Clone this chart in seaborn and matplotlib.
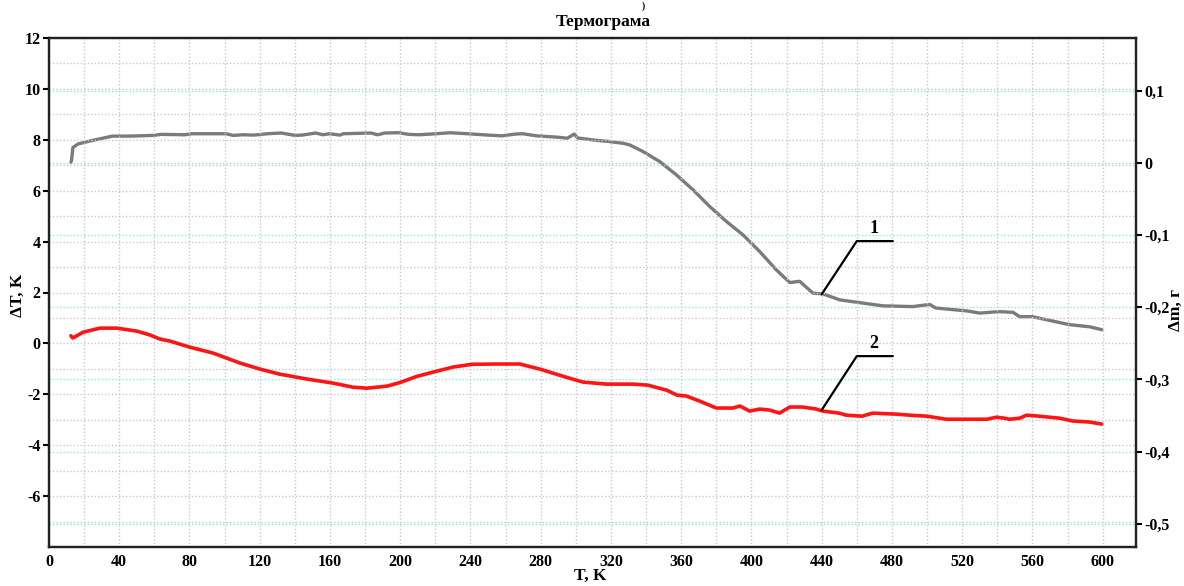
import numpy as np
import pandas as pd
import matplotlib
matplotlib.use("Agg")
import matplotlib.pyplot as plt
import seaborn as sns
from matplotlib.ticker import MultipleLocator, FixedLocator, FuncFormatter

# ---------------- data ----------------
# Curve 1: mass change (right axis, Δm, г)
T_mass = [12.5, 12.9, 13.6, 16.5, 24.3, 36.1, 45.9, 59.7, 63.6, 77.3, 81.2,
          100.9, 104.8, 110.7, 116.6, 124.4, 132.3, 140.1, 144.1, 151.9, 155.9,
          159.8, 165.7, 167.6, 183.3, 187.2, 191.2, 199.0, 204.9, 210.8, 220.6,
          228.4, 238.3, 250.1, 257.9, 265.8, 269.7, 277.6, 289.3, 295.2, 299.1,
          301.0, 302.3, 309.8, 319.3, 326.9, 330.7, 338.3, 347.8, 357.3, 366.8,
          376.3, 385.8, 395.2, 404.7, 414.2, 421.8, 427.5, 435.1, 440.8, 450.3,
          463.0, 475.0, 492.0, 501.5, 505.0, 522.6, 530.0, 541.0, 549.0, 552.7,
          560.0, 571.5, 581.0, 592.6, 599.5]
dm_mass = [0.001, 0.0046, 0.0213, 0.0262, 0.0309, 0.0371, 0.0371, 0.0381, 0.0395,
           0.0390, 0.0404, 0.0404, 0.0381, 0.0390, 0.0385, 0.0404, 0.0414, 0.0381,
           0.0385, 0.0414, 0.0390, 0.0404, 0.0385, 0.0404, 0.0414, 0.0390, 0.0414,
           0.0418, 0.0395, 0.0390, 0.0404, 0.0418, 0.0404, 0.0385, 0.0375, 0.0400,
           0.0404, 0.0375, 0.0357, 0.0342, 0.0400, 0.0345, 0.0342, 0.0318, 0.0295,
           0.0272, 0.0249, 0.0157, 0.0018, -0.0166, -0.0374, -0.0605, -0.0812,
           -0.0997, -0.1228, -0.1482, -0.1657, -0.1640, -0.1805, -0.1814, -0.1897,
           -0.1940, -0.1980, -0.1990, -0.1960, -0.2010, -0.2050, -0.2080, -0.2060,
           -0.2070, -0.2130, -0.2130, -0.2190, -0.2240, -0.2270, -0.2310]

# Curve 2: differential temperature (left axis, ΔT, K)
T_dta = [12.5, 13.5, 19.4, 29.0, 38.7, 50.1, 57.5, 63.2, 68.9, 80.3, 93.4, 108.7,
         120.1, 131.5, 146.8, 161.7, 173.0, 181.0, 192.4, 199.8, 209.3, 218.6,
         230.0, 241.0, 256.7, 268.0, 279.5, 292.6, 304.0, 317.6, 332.4, 341.0,
         351.8, 357.5, 363.0, 370.6, 380.0, 389.4, 393.4, 399.0, 404.7, 410.4,
         416.0, 421.8, 429.0, 437.0, 440.6, 450.0, 454.0, 463.0, 469.0, 482.7,
         490.0, 499.8, 511.0, 534.0, 539.6, 544.0, 547.0, 552.7, 556.7, 564.0,
         575.5, 583.0, 592.6, 599.4]
dT_dta = [0.30, 0.21, 0.44, 0.60, 0.60, 0.48, 0.33, 0.17, 0.09, -0.15, -0.38, -0.77,
          -1.01, -1.21, -1.40, -1.56, -1.72, -1.76, -1.68, -1.54, -1.30, -1.13,
          -0.93, -0.82, -0.81, -0.81, -1.01, -1.29, -1.52, -1.60, -1.60, -1.64,
          -1.84, -2.03, -2.07, -2.27, -2.54, -2.54, -2.46, -2.66, -2.58, -2.62,
          -2.74, -2.50, -2.50, -2.58, -2.66, -2.74, -2.82, -2.86, -2.74, -2.78,
          -2.82, -2.86, -2.98, -2.98, -2.90, -2.94, -2.98, -2.94, -2.82, -2.86,
          -2.94, -3.05, -3.09, -3.17]

left_ticks = [-6, -4, -2, 0, 2, 4, 6, 8, 10, 12]
right_ticks = [0.1, 0.0, -0.1, -0.2, -0.3, -0.4, -0.5]
x_ticks = list(range(0, 601, 40))

# callout labels: leader line points (T, ΔT) and label text
callout_T = [440, 460, 480.5]
callout1_dT = [1.93, 4.02, 4.02]
callout2_dT = [-2.62, -0.50, -0.50]
callout_labels = ["1", "2"]

assert len(T_mass) == len(dm_mass)
assert len(T_dta) == len(dT_dta)

df_mass = pd.DataFrame({"T": T_mass, "dm": dm_mass})
df_dta = pd.DataFrame({"T": T_dta, "dT": dT_dta})

# ---------------- style ----------------
sns.set_style("white")
plt.rcParams['font.family'] = ['Liberation Serif', 'DejaVu Serif']
plt.rcParams['font.weight'] = 'bold'
plt.rcParams['text.color'] = 'black'
plt.rcParams['xtick.color'] = 'black'
plt.rcParams['ytick.color'] = 'black'

W, H = 1184, 586
fig = plt.figure(figsize=(W / 100, H / 100), dpi=100)
L, R, TOP, BOT = 49, 1136, 38, 547
ax = fig.add_axes([L / W, 1 - BOT / H, (R - L) / W, (BOT - TOP) / H])
ax2 = ax.twinx()

# limits
ax.set_xlim(0, 619)
ax.set_ylim(-8.0, 12.0)
ax2.set_ylim(-0.532, 0.173)

# grids
ax.xaxis.set_major_locator(FixedLocator(x_ticks))
ax.xaxis.set_minor_locator(MultipleLocator(20))
ax.yaxis.set_major_locator(FixedLocator(left_ticks))
ax.yaxis.set_minor_locator(MultipleLocator(1))
grid_kw = dict(color='#c9c9c9', linestyle=(0, (1, 1.5)), linewidth=1.0)
ax.grid(True, which='both', axis='both', **grid_kw)
ax2.yaxis.set_major_locator(FixedLocator(right_ticks))
ax2.grid(True, which='major', axis='y', color='#8fe8ee', linestyle=(0, (1, 1.5)), linewidth=1.0)
ax2.grid(False, axis='x')

# data
sns.lineplot(data=df_dta, x="T", y="dT", ax=ax, color='#ff1414', linewidth=2.6,
             estimator=None, sort=False, legend=False)
sns.lineplot(data=df_mass, x="T", y="dm", ax=ax2, color='#7b7b7b', linewidth=2.4,
             estimator=None, sort=False, legend=False)

# callouts
ax2.set_zorder(1)
for dT_line, lab in zip([callout1_dT, callout2_dT], callout_labels):
    ax.plot(callout_T, dT_line, color='black', linewidth=1.6, zorder=5)
    ax.text((callout_T[1] + callout_T[2]) / 2 - 0.5, dT_line[1] + 0.15, lab,
            ha='center', va='bottom', fontsize=13, fontweight='bold',
            color='black', zorder=6)
ax.set_zorder(2)
ax.patch.set_visible(False)

# formatters
ax.yaxis.set_major_formatter(FuncFormatter(lambda v, p: f"{int(round(v))}"))
ax.xaxis.set_major_formatter(FuncFormatter(lambda v, p: f"{int(round(v))}"))
def rfmt(v, p):
    if abs(v) < 1e-9:
        return "0"
    return f"{v:.1f}".replace('.', ',')
ax2.yaxis.set_major_formatter(FuncFormatter(rfmt))

# ticks
tick_font = 11.5
ax.tick_params(axis='both', which='major', direction='out', length=4, width=1.5,
               labelsize=tick_font, pad=2, colors='black')
ax.tick_params(axis='both', which='minor', length=0)
ax.tick_params(axis='x', pad=1)
ax2.tick_params(axis='y', which='major', direction='out', length=4, width=1.5,
                labelsize=tick_font, pad=2, colors='black')
ax2.set_ylabel("")
ax.set_xlabel("")
ax.set_ylabel("")
for lbl in ax.get_xticklabels() + ax.get_yticklabels() + ax2.get_yticklabels():
    lbl.set_fontweight('bold')

for a in (ax, ax2):
    for s in a.spines.values():
        s.set_linewidth(1.6)
        s.set_color('#222222')
        s.set_visible(True)

# texts
fig.text(603 / W, 1 - 22 / H, "Термограма", ha='center', va='center',
         fontsize=12.5, fontweight='bold', color='black')
fig.text(18 / W, 1 - 295 / H, "ΔT, K", ha='center', va='center', rotation=90,
         fontsize=12.5, fontweight='bold', color='black')
fig.text(1176 / W, 1 - 310 / H, "Δm, г", ha='center', va='center', rotation=90,
         fontsize=12.5, fontweight='bold', color='black')
fig.text(590 / W, 2 / H, "T, K", ha='center', va='bottom',
         fontsize=12.5, fontweight='bold', color='black')
fig.text(643 / W, 1 - 1 / H, ")", ha='center', va='top', fontsize=7, color='black')

fig.savefig("out.png", dpi=100)
